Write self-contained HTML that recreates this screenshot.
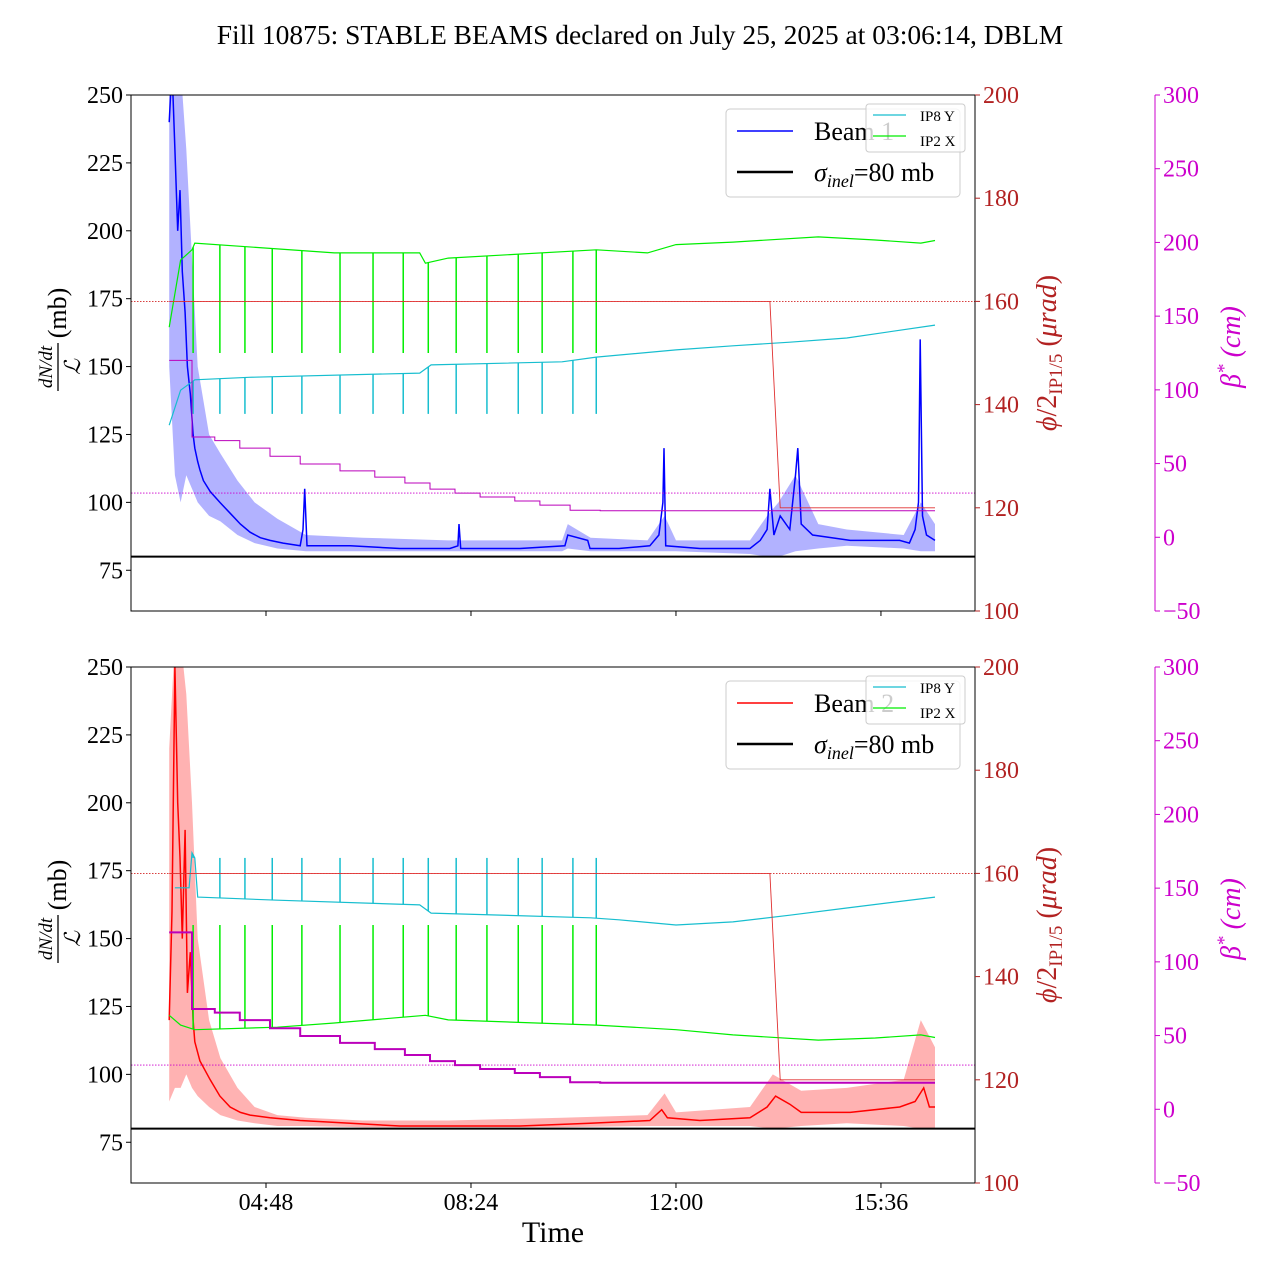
<!DOCTYPE html>
<html><head><meta charset="utf-8"><style>
body{margin:0;background:#fff}
svg{display:block;font-family:"Liberation Serif",serif}
</style></head><body>
<svg id="c" width="1280" height="1280" viewBox="0 0 1280 1280" xmlns="http://www.w3.org/2000/svg">
<text x="640" y="44" font-size="27.5" text-anchor="middle">Fill 10875: STABLE BEAMS declared on July 25, 2025 at 03:06:14, DBLM</text>
</svg>
<script>
// ---- data (hours of day, mb, µrad, cm) ----
const xTicks=[4.8,8.4,12,15.6];
const xTickLabels=["04:48","08:24","12:00","15:36"];
const yTicks=[75,100,125,150,175,200,225,250];
const phiTicks=[100,120,140,160,180,200];
const betaTicks=[-50,0,50,100,150,200,250,300];
const sigmaInel=80;

const b1T=[3.10,3.15,3.20,3.25,3.29,3.33,3.38,3.42,3.47,3.52,3.55,3.60,3.64,3.70,3.82,3.99,4.17,4.35,4.52,4.70,4.87,5.10,5.40,5.45,5.48,5.52,5.80,6.28,7.15,8.03,8.17,8.19,8.22,9.26,10.05,10.10,10.45,10.49,11.00,11.54,11.70,11.77,11.79,11.82,12.42,13.30,13.48,13.60,13.65,13.72,13.83,14.00,14.10,14.14,14.20,14.40,15.06,15.93,16.10,16.20,16.26,16.29,16.33,16.40,16.55];
const b1V=[240,260,230,200,215,185,170,150,140,125,120,115,112,108,104,100,96,92,89,87,86,85,84,90,105,84,84,84,83,83,84,92,83,83,84,88,86,83,83,84,88,100,120,84,83,83,86,90,105,88,95,90,110,120,92,88,86,86,85,90,100,160,95,88,86];
const b1BandT=[3.1,3.2,3.3,3.4,3.5,3.6,3.8,4.0,4.3,4.6,5.0,5.5,6.5,8,10,10.1,10.5,11.5,11.8,12,13.3,13.6,13.8,14.1,14.5,15,16,16.3,16.55];
const b1BandHi=[260,260,260,230,190,150,125,118,108,100,94,88,87,86,86,92,87,86,95,86,86,95,100,110,92,90,88,100,92];
const b1BandLo=[150,110,100,110,105,100,95,93,88,85,83,82,82,82,82,83,82,82,82,82,81,80,80,82,83,84,83,82,82];

const b2T=[3.10,3.15,3.20,3.25,3.29,3.33,3.38,3.42,3.47,3.52,3.55,3.64,3.82,3.99,4.17,4.35,4.52,4.87,5.40,6.28,7.15,8.03,9.26,10.49,11.54,11.75,11.85,12.42,13.30,13.60,13.75,14.00,14.20,15.06,15.93,16.20,16.35,16.45,16.55];
const b2V=[120,160,250,200,180,150,190,130,145,120,112,105,98,92,88,86,85,84,83,82,81,81,81,82,83,87,84,83,84,88,92,89,86,86,88,90,95,88,88];
const b2BandT=[3.1,3.2,3.3,3.4,3.5,3.6,3.8,4.0,4.3,4.6,5.0,5.5,6.5,8,10,11.5,11.8,12,13.3,13.7,14.2,15,16,16.3,16.55];
const b2BandHi=[220,260,260,240,200,150,120,106,95,88,85,84,83,83,84,85,93,86,88,100,94,95,98,120,110];
const b2BandLo=[90,95,95,100,95,92,88,85,83,82,81,81,80.5,80.5,80.5,81,81,81,81,80,81,82,81,80,80];

const spikeT=[3.52,3.99,4.43,4.91,5.43,6.10,6.68,7.21,7.65,8.14,8.68,9.23,9.65,10.19,10.60];

const g1T=[3.10,3.30,3.50,3.55,6.0,7.5,7.6,8.0,10.6,11.5,12.0,13.0,14.5,15.5,16.3,16.55];
const g1V=[155,168,170,171.3,169.4,169.4,167.4,168.4,170,169.4,171,171.5,172.5,171.9,171.3,171.8];
const g1Spike=150;
const c1T=[3.10,3.30,3.55,4.5,7.5,7.7,10.0,10.6,12.0,13.0,14.0,15.0,16.55];
const c1V=[136,142.8,144.8,145.3,146.1,147.7,148.3,149.2,150.6,151.4,152.1,152.9,155.4];
const c1Spike=138.2;

const c2T=[3.20,3.45,3.50,3.55,3.60,5.0,7.5,7.7,10.5,11.0,12.0,13.0,14.0,15.0,16.55];
const c2V=[157.2,157.2,164,163,155.4,154.8,153.9,152.3,151.4,151,150,150.6,151.9,153.3,155.4];
const c2Spike=163;
const g2T=[3.10,3.30,3.55,5.0,6.0,7.6,8.0,10.6,12.0,13.0,14.5,15.5,16.3,16.55];
const g2V=[132.5,130.6,129.7,130.2,131,132.5,131.6,130.6,129.7,128.7,127.7,128.1,128.7,128.2];
const g2Spike=150;

const ip15T=[3.10,13.65,13.83,16.55];
const ip15V=[160,160,120,120];
const betaT=[3.10,3.50,3.90,4.34,4.87,5.40,6.10,6.71,7.24,7.68,8.12,8.56,9.17,9.61,10.14,10.67,16.55];
const betaV=[120,68,65.6,60.5,55,49.7,45,40.8,36.8,32.7,30,27.3,24.6,21.8,18.4,18,18];
const phiRef=160, betaRef=30;

// ---- drawing ----
const NS="http://www.w3.org/2000/svg";
const svg=document.getElementById('c');
const X0=131,X1=975,H=516;
function xs(h){return 266+(h-4.8)*56.94;}
function yL(v,top){return top+(250-v)*(H/190);}
function yP(v,top){return top+(200-v)*(H/100);}
function yB(v,top){return top+(300-v)*(H/350);}
function mk(tag,attrs,parent){const e=document.createElementNS(NS,tag);for(const k in attrs)e.setAttribute(k,attrs[k]);(parent||svg).appendChild(e);return e;}
function pts(T,V,f,top){return T.map((t,i)=>xs(t).toFixed(1)+','+f(V[i],top).toFixed(1)).join(' ');}
function stepPts(T,V,f,top){let s=[];for(let i=0;i<T.length;i++){if(i>0)s.push(xs(T[i]).toFixed(1)+','+f(V[i-1],top).toFixed(1));s.push(xs(T[i]).toFixed(1)+','+f(V[i],top).toFixed(1));}return s.join(' ');}
function interp(T,V,t){if(t<=T[0])return V[0];for(let i=1;i<T.length;i++)if(t<=T[i]){const r=(t-T[i-1])/(T[i]-T[i-1]);return V[i-1]+r*(V[i]-V[i-1]);}return V[V.length-1];}

function panel(top,beamName,color,bandColor,T,V,BT,BH,BL,gT,gV,gS,cT,cV,cS,betaW,pname){
  const g=mk('g',{},svg);
  
  
  const clipId='clip'+top;
  const cp=mk('clipPath',{id:clipId},g);mk('rect',{x:X0,y:top,width:X1-X0,height:H},cp);
  const pg=mk('g',{'clip-path':'url(#'+clipId+')'},g);
  const bandPts=BT.map((t,i)=>xs(t).toFixed(1)+','+yL(BH[i],top).toFixed(1)).concat(BT.slice().reverse().map((t,i)=>xs(t).toFixed(1)+','+yL(BL[BL.length-1-i],top).toFixed(1))).join(' ');
  const band=mk('polygon',{points:bandPts,fill:bandColor,stroke:'none'},pg);
  
  
  const ln=mk('polyline',{points:pts(T,V,yL,top),fill:'none',stroke:color,'stroke-width':1.5},pg);
  
  
  const sg=mk('line',{x1:X0,x2:X1,y1:yL(sigmaInel,top),y2:yL(sigmaInel,top),stroke:'#000','stroke-width':2},pg);
  
  
  const r1=mk('line',{x1:X0,x2:X1,y1:yP(phiRef,top),y2:yP(phiRef,top),stroke:'#c00','stroke-width':0.8,'stroke-dasharray':'1.5,1.5'},pg);
  
  
  const r2=mk('line',{x1:X0,x2:X1,y1:yB(betaRef,top),y2:yB(betaRef,top),stroke:'#c0c','stroke-width':0.8,'stroke-dasharray':'1.5,1.5'},pg);
  
  
  function xing(tT,tV,sp,col,nm){
    const p=mk('polyline',{points:pts(tT,tV,yP,top),fill:'none',stroke:col,'stroke-width':1.2},pg);
    
    
    spikeT.forEach(t=>{
      const s=mk('line',{x1:xs(t),x2:xs(t),y1:yP(interp(tT,tV,t),top),y2:yP(sp,top),stroke:col,'stroke-width':1.5},pg);
      
      
    });
  }
  xing(cT,cV,cS,'#17becf','ip8-y-crossing');
  xing(gT,gV,gS,'#00ee00','ip2-x-crossing');
  const ip=mk('polyline',{points:pts(ip15T,ip15V,yP,top),fill:'none',stroke:'#e03030','stroke-width':0.9},pg);
  
  
  const bt=mk('polyline',{points:stepPts(betaT,betaV,yB,top),fill:'none',stroke:'#bb00bb','stroke-width':betaW},pg);
  
  
  const fr=mk('rect',{x:X0,y:top,width:X1-X0,height:H,fill:'none',stroke:'#000','stroke-width':1},g);
  
  
  yTicks.forEach(v=>{const y=yL(v,top);
    mk('line',{x1:X0-5,x2:X0,y1:y,y2:y,stroke:'#000'},g);
    const t=mk('text',{x:X0-8,y:y+8,'font-size':24,'text-anchor':'end'},g);t.textContent=v;
    
    });
  xTicks.forEach((v,i)=>{const x=xs(v);
    mk('line',{x1:x,x2:x,y1:top+H,y2:top+H+5,stroke:'#000'},g);
    if(top>300){const t=mk('text',{x:x,y:top+H+27,'font-size':24,'text-anchor':'middle'},g);t.textContent=xTickLabels[i];
    
    }});
  phiTicks.forEach(v=>{const y=yP(v,top);
    mk('line',{x1:X1,x2:X1+5,y1:y,y2:y,stroke:'#b22222'},g);
    const t=mk('text',{x:X1+8,y:y+8,'font-size':24,fill:'#b22222'},g);t.textContent=v;
    
    });
  const BX=1155;
  mk('line',{x1:BX,x2:BX,y1:top,y2:top+H,stroke:'#c0c','stroke-width':1},g);
  betaTicks.forEach(v=>{const y=yB(v,top);
    mk('line',{x1:BX,x2:BX+5,y1:y,y2:y,stroke:'#c0c'},g);
    const t=mk('text',{x:BX+8,y:y+8,'font-size':24,fill:'#c0c'},g);t.textContent=(v<0?'\u2212'+(-v):v);
    
    });
  const cy=top+258;
  const yl=mk('g',{transform:'translate(58,'+cy+') rotate(-90)'},g);
  
  
  let t=mk('text',{x:-14,y:-6,'font-size':19,'font-style':'italic','text-anchor':'middle'},yl);t.textContent='dN/dt';
  mk('line',{x1:-38,x2:10,y1:0,y2:0,stroke:'#000','stroke-width':1.3},yl);
  t=mk('text',{x:-14,y:22,'font-size':22,'font-style':'italic','text-anchor':'middle'},yl);t.textContent='\u2112';
  t=mk('text',{x:40,y:8,'font-size':26,'text-anchor':'middle'},yl);t.textContent='(mb)';
  const pl=mk('text',{transform:'translate(1056,'+cy+') rotate(-90)','font-size':28,fill:'#b22222','text-anchor':'middle'},g);
  pl.innerHTML='<tspan font-style="italic">\u03d5</tspan>/2<tspan font-size="19" dy="6">IP1/5</tspan><tspan dy="-6"> (</tspan><tspan font-style="italic">\u03bcrad</tspan>)';
  
  
  const bl=mk('text',{transform:'translate(1240,'+(cy-6)+') rotate(-90)','font-size':28,fill:'#c0c','text-anchor':'middle','font-style':'italic'},g);
  bl.innerHTML='\u03b2<tspan font-size="19" dy="-10">*</tspan><tspan dy="10"> (cm)</tspan>';
  
  
  const lg=mk('g',{},g);
  
  
  mk('rect',{x:726,y:top+14,width:234,height:88,rx:4,fill:'#fff','fill-opacity':0.8,stroke:'#ccc'},lg);
  mk('line',{x1:737,x2:793,y1:top+36,y2:top+36,stroke:color,'stroke-width':1.5},lg);
  t=mk('text',{x:814,y:top+45,'font-size':26},lg);t.textContent=beamName;
  mk('line',{x1:737,x2:793,y1:top+77,y2:top+77,stroke:'#000','stroke-width':2.5},lg);
  t=mk('text',{x:814,y:top+86,'font-size':26},lg);t.innerHTML='<tspan font-style="italic">\u03c3<tspan font-size="18" dy="6">inel</tspan></tspan><tspan dy="-6">=80 mb</tspan>';
  const lg2=mk('g',{},g);
  
  
  mk('rect',{x:866,y:top+9,width:99,height:48,rx:3,fill:'#fff','fill-opacity':0.8,stroke:'#ccc'},lg2);
  mk('line',{x1:873,x2:906,y1:top+20,y2:top+20,stroke:'#17becf','stroke-width':1.2},lg2);
  t=mk('text',{x:920,y:top+26,'font-size':15},lg2);t.textContent='IP8 Y';
  mk('line',{x1:873,x2:906,y1:top+41,y2:top+41,stroke:'#00ee00','stroke-width':1.2},lg2);
  t=mk('text',{x:920,y:top+51,'font-size':15},lg2);t.textContent='IP2 X';
}
panel(95,'Beam 1','#0000ff','rgba(0,0,255,0.3)',b1T,b1V,b1BandT,b1BandHi,b1BandLo,g1T,g1V,g1Spike,c1T,c1V,c1Spike,1,'top-panel-beam1');
panel(667,'Beam 2','#ff0000','rgba(255,0,0,0.3)',b2T,b2V,b2BandT,b2BandHi,b2BandLo,g2T,g2V,g2Spike,c2T,c2V,c2Spike,2,'bottom-panel-beam2');
const xt=mk('text',{x:553,y:1242,'font-size':30,'text-anchor':'middle'});xt.textContent='Time';


</script>
</body></html>
